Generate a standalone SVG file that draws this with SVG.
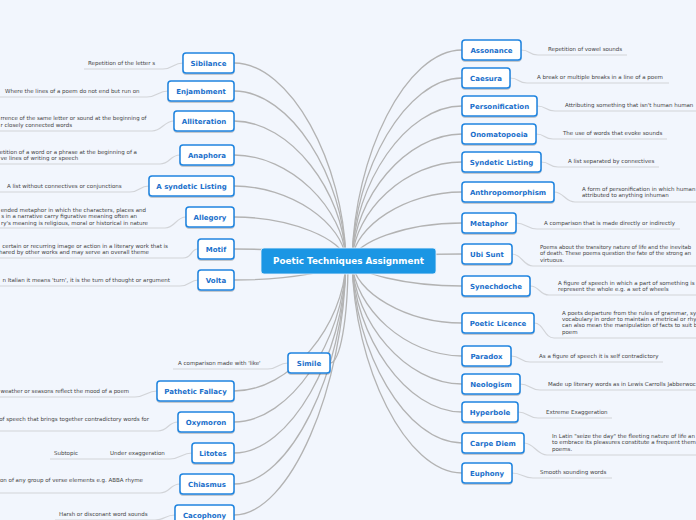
<svg xmlns="http://www.w3.org/2000/svg" width="696" height="520" viewBox="0 0 696 520">
<style>
.bg{fill:#f2f6fd}
.conn{fill:none;stroke:#b3b3b3;stroke-width:1.3}
.ul{fill:none;stroke:#d2d4d8;stroke-width:1.2}
.box{fill:#ffffff;stroke:#1f84e0;stroke-width:1.5;filter:url(#sh)}
.t{font-family:"DejaVu Sans",Verdana,sans-serif;font-size:7px;font-weight:bold;fill:#1a6fcb;text-anchor:middle}
.l{font-family:"DejaVu Sans",Verdana,sans-serif;font-size:5.5px;fill:#444444}
.e{text-anchor:end}
.root{fill:#1b96e4;stroke:#e8f3fd;stroke-width:0.8}
.rt{font-family:"DejaVu Sans",Verdana,sans-serif;font-size:8.8px;font-weight:bold;fill:#ffffff;text-anchor:middle}
</style>
<defs>
<filter id="sh" x="-20%" y="-30%" width="140%" height="170%">
<feDropShadow dx="0" dy="1" stdDeviation="0.7" flood-color="#000" flood-opacity="0.25"/>
</filter>
</defs>
<rect class="bg" x="0" y="0" width="696" height="520"/>
<g id="connectors">
<path class="conn" d="M234,63 C290,63 344,162 346,261"/>
<path class="conn" d="M234,91 C290,91 344,176 346,261"/>
<path class="conn" d="M234,121 C290,121 344,191 346,261"/>
<path class="conn" d="M234,155 C290,155 344,208 346,261"/>
<path class="conn" d="M234,186 C290,186 344,223 346,261"/>
<path class="conn" d="M234,217 C290,217 344,239 346,261"/>
<path class="conn" d="M234,249 C290,249 344,255 346,261"/>
<path class="conn" d="M234,280 C290,280 344,270 346,261"/>
<path class="conn" d="M234,391 C290,391 344,326 346,261"/>
<path class="conn" d="M234,422 C290,422 344,341 346,261"/>
<path class="conn" d="M234,453 C290,453 344,357 346,261"/>
<path class="conn" d="M234,484 C290,484 344,372 346,261"/>
<path class="conn" d="M234,515 C290,515 344,388 346,261"/>
<path class="conn" d="M330,363 C340,363 348,320 348,261"/>
<path class="conn" d="M462,50 C406,50 354,155 352,261"/>
<path class="conn" d="M462,78 C406,78 354,169 352,261"/>
<path class="conn" d="M462,106 C406,106 354,183 352,261"/>
<path class="conn" d="M462,134 C406,134 354,197 352,261"/>
<path class="conn" d="M462,162 C406,162 354,211 352,261"/>
<path class="conn" d="M462,192 C406,192 354,226 352,261"/>
<path class="conn" d="M462,223 C406,223 354,242 352,261"/>
<path class="conn" d="M462,254 C406,254 354,257 352,261"/>
<path class="conn" d="M462,286 C406,286 354,273 352,261"/>
<path class="conn" d="M462,323 C406,323 354,292 352,261"/>
<path class="conn" d="M462,356 C406,356 354,308 352,261"/>
<path class="conn" d="M462,384 C406,384 354,322 352,261"/>
<path class="conn" d="M462,412 C406,412 354,336 352,261"/>
<path class="conn" d="M462,443 C406,443 354,352 352,261"/>
<path class="conn" d="M462,473 C406,473 354,367 352,261"/>
<path class="ul" d="M183,63 C173,63 173,69 163,69 L84,69"/>
<path class="ul" d="M168,91 C158,91 157,97 147,97 L0,97"/>
<path class="ul" d="M174,121 C164,121 162,131 152,131 L0,131"/>
<path class="ul" d="M180,155 C170,155 170,164 160,164 L0,164"/>
<path class="ul" d="M149,186 C139,186 140,192 130,192 L0,192"/>
<path class="ul" d="M186,217 C176,217 175,228 165,228 L0,228"/>
<path class="ul" d="M198,249 C190,249 193,258 183,258 L0,258"/>
<path class="ul" d="M198,280 C190,280 190,286 180,286 L0,286"/>
<path class="ul" d="M288,363 C278,363 278,369 268,369 L173,369"/>
<path class="ul" d="M157,391 C147,391 145,397 135,397 L0,397"/>
<path class="ul" d="M178,422 C168,422 168,431 158,431 L0,431"/>
<path class="ul" d="M192,453 C182,453 180,459 170,459 L50,459"/>
<path class="ul" d="M180,484 C170,484 170,493 160,493 L0,493"/>
<path class="ul" d="M175,515 C165,515 165,520 155,520 L55,520"/>
<path class="ul" d="M521,50 C531,50 528,55 538,55 L627,55"/>
<path class="ul" d="M510,78 C520,78 517,83 527,83 L669,83"/>
<path class="ul" d="M537,106 C547,106 545,111 555,111 L696,111"/>
<path class="ul" d="M536,134 C546,134 543,139 553,139 L667,139"/>
<path class="ul" d="M541,162 C551,162 548,167 558,167 L659,167"/>
<path class="ul" d="M554,192 C564,192 565,202 575,202 L696,202"/>
<path class="ul" d="M516,223 C526,223 527,229 537,229 L680,229"/>
<path class="ul" d="M512,254 C522,254 523,266 533,266 L696,266"/>
<path class="ul" d="M530,286 C540,286 539,295 549,295 L696,295"/>
<path class="ul" d="M534,323 C544,323 544,338 554,338 L696,338"/>
<path class="ul" d="M511,356 C521,356 520,362 530,362 L663,362"/>
<path class="ul" d="M520,384 C530,384 530,390 540,390 L696,390"/>
<path class="ul" d="M518,412 C528,412 528,418 538,418 L612,418"/>
<path class="ul" d="M524,443 C534,443 537,455 547,455 L696,455"/>
<path class="ul" d="M512,473 C522,473 523,478 533,478 L612,478"/>
</g>
<g id="root">
<rect class="root" x="261" y="248" width="175" height="26" rx="3"/>
<text class="rt" x="348.5" y="264.2">Poetic Techniques Assignment</text>
</g>
<g id="sibilance"><rect class="box" x="183" y="53" width="51" height="20" rx="3"/><text class="t" x="208.5" y="65.5">Sibilance</text><text class="l" x="88" y="65">Repetition of the letter s</text></g>
<g id="enjambment"><rect class="box" x="168" y="81" width="66" height="20" rx="3"/><text class="t" x="201" y="93.5">Enjambment</text><text class="l" x="5" y="93">Where the lines of a poem do not end but run on</text></g>
<g id="alliteration"><rect class="box" x="174" y="111" width="60" height="20" rx="3"/><text class="t" x="204" y="123.5">Alliteration</text><text class="l" x="0.5" y="120" textLength="146" lengthAdjust="spacingAndGlyphs">rrence of the same letter or sound at the beginning of</text><text class="l" x="0.5" y="127">r closely connected words</text></g>
<g id="anaphora"><rect class="box" x="180" y="145" width="54" height="20" rx="3"/><text class="t" x="207" y="157.5">Anaphora</text><text class="l e" x="137" y="153.6">etition of a word or a phrase at the beginning of a</text><text class="l" x="0.5" y="160">ve lines of writing or speech</text></g>
<g id="asyndetic-listing"><rect class="box" x="149" y="176" width="85" height="20" rx="3"/><text class="t" x="191.5" y="188.5">A syndetic Listing</text><text class="l" x="7" y="188">A list without connectives or conjunctions</text></g>
<g id="allegory"><rect class="box" x="186" y="207" width="48" height="20" rx="3"/><text class="t" x="210" y="219.5">Allegory</text><text class="l e" x="146" y="212">ended metaphor in which the characters, places and</text><text class="l e" x="137" y="218.3">s in a narrative carry figurative meaning often an</text><text class="l e" x="148" y="225">ry's meaning is religious, moral or historical in nature</text></g>
<g id="motif"><rect class="box" x="198" y="239" width="36" height="20" rx="3"/><text class="t" x="216" y="251.5">Motif</text><text class="l e" x="168" y="248">certain or recurring image or action in a literary work that is</text><text class="l e" x="149" y="254.3">hared by other works and may serve an overall theme</text></g>
<g id="volta"><rect class="box" x="198" y="270" width="36" height="20" rx="3"/><text class="t" x="216" y="282.5">Volta</text><text class="l e" x="170" y="282">n Italian it means 'turn', it is the turn of thought or argument</text></g>
<g id="simile"><rect class="box" x="288" y="353" width="42" height="20" rx="3"/><text class="t" x="309" y="365.5">Simile</text><text class="l" x="178" y="365">A comparison made with 'like'</text></g>
<g id="pathetic-fallacy"><rect class="box" x="157" y="381" width="77" height="20" rx="3"/><text class="t" x="195.5" y="393.5">Pathetic Fallacy</text><text class="l" x="0.5" y="393" textLength="128.5" lengthAdjust="spacingAndGlyphs">weather or seasons reflect the mood of a poem</text></g>
<g id="oxymoron"><rect class="box" x="178" y="412" width="56" height="20" rx="3"/><text class="t" x="206" y="424.5">Oxymoron</text><text class="l e" x="149" y="421">of speech that brings together contradictory words for</text></g>
<g id="litotes"><rect class="box" x="192" y="443" width="42" height="20" rx="3"/><text class="t" x="213" y="455.5">Litotes</text><text class="l" x="110" y="455">Under exaggeration</text><text class="l" x="54" y="455">Subtopic</text></g>
<g id="chiasmus"><rect class="box" x="180" y="474" width="54" height="20" rx="3"/><text class="t" x="207" y="486.5">Chiasmus</text><text class="l e" x="143" y="482">on of any group of verse elements e.g. ABBA rhyme</text></g>
<g id="cacophony"><rect class="box" x="175" y="505" width="59" height="20" rx="3"/><text class="t" x="204.5" y="517.5">Cacophony</text><text class="l" x="59" y="516">Harsh or disconant word sounds</text></g>
<g id="assonance"><rect class="box" x="462" y="40" width="59" height="20" rx="3"/><text class="t" x="491.5" y="52.5">Assonance</text><text class="l" x="548" y="51">Repetition of vowel sounds</text></g>
<g id="caesura"><rect class="box" x="462" y="68" width="48" height="20" rx="3"/><text class="t" x="486" y="80.5">Caesura</text><text class="l" x="537" y="79">A break or multiple breaks in a line of a poem</text></g>
<g id="personification"><rect class="box" x="462" y="96" width="75" height="20" rx="3"/><text class="t" x="499.5" y="108.5">Personification</text><text class="l" x="565" y="107">Attributing something that isn't human human</text></g>
<g id="onomatopoeia"><rect class="box" x="462" y="124" width="74" height="20" rx="3"/><text class="t" x="499" y="136.5">Onomatopoeia</text><text class="l" x="563" y="135">The use of words that evoke sounds</text></g>
<g id="syndetic-listing"><rect class="box" x="462" y="152" width="79" height="20" rx="3"/><text class="t" x="501.5" y="164.5">Syndetic Listing</text><text class="l" x="568" y="163">A list separated by connectives</text></g>
<g id="anthropomorphism"><rect class="box" x="462" y="182" width="92" height="20" rx="3"/><text class="t" x="508" y="194.5">Anthropomorphism</text><text class="l" x="582" y="191">A form of personification in which human</text><text class="l" x="582" y="197.3">attributed to anything inhuman</text></g>
<g id="metaphor"><rect class="box" x="462" y="213" width="54" height="20" rx="3"/><text class="t" x="489" y="225.5">Metaphor</text><text class="l" x="544" y="225">A comparison that is made directly or indirectly</text></g>
<g id="ubi-sunt"><rect class="box" x="462" y="244" width="50" height="20" rx="3"/><text class="t" x="487" y="256.5">Ubi Sunt</text><text class="l" x="540" y="249" textLength="151" lengthAdjust="spacingAndGlyphs">Poems about the transitory nature of life and the inevitab</text><text class="l" x="540" y="255.3" textLength="151" lengthAdjust="spacingAndGlyphs">of death. These poems question the fate of the strong an</text><text class="l" x="540" y="261.7">virtuous.</text></g>
<g id="synechdoche"><rect class="box" x="462" y="276" width="68" height="20" rx="3"/><text class="t" x="496" y="288.5">Synechdoche</text><text class="l" x="558" y="285.3">A figure of speech in which a part of something is</text><text class="l" x="558" y="291.3">represent the whole e.g. a set of wheels</text></g>
<g id="poetic-licence"><rect class="box" x="462" y="313" width="72" height="20" rx="3"/><text class="t" x="498" y="325.5">Poetic Licence</text><text class="l" x="562" y="314.6">A poets departure from the rules of grammar, sy</text><text class="l" x="562" y="321">vocabulary in order to maintain a metrical or rhy</text><text class="l" x="562" y="327.3">can also mean the manipulation of facts to suit b</text><text class="l" x="562" y="333.6">poem</text></g>
<g id="paradox"><rect class="box" x="462" y="346" width="49" height="20" rx="3"/><text class="t" x="486.5" y="358.5">Paradox</text><text class="l" x="539" y="358">As a figure of speech it is self contradictory</text></g>
<g id="neologism"><rect class="box" x="462" y="374" width="58" height="20" rx="3"/><text class="t" x="491" y="386.5">Neologism</text><text class="l" x="548" y="386">Made up literary words as in Lewis Carrolls Jabberwoc</text></g>
<g id="hyperbole"><rect class="box" x="462" y="402" width="56" height="20" rx="3"/><text class="t" x="490" y="414.5">Hyperbole</text><text class="l" x="546" y="414">Extreme Exaggeration</text></g>
<g id="carpe-diem"><rect class="box" x="462" y="433" width="62" height="20" rx="3"/><text class="t" x="493" y="445.5">Carpe Diem</text><text class="l" x="552" y="438">In Latin "seize the day" the fleeting nature of life an</text><text class="l" x="552" y="444.3">to embrace its pleasures constitute a frequent them</text><text class="l" x="552" y="451">poems.</text></g>
<g id="euphony"><rect class="box" x="462" y="463" width="50" height="20" rx="3"/><text class="t" x="487" y="475.5">Euphony</text><text class="l" x="540" y="474">Smooth sounding words</text></g>
</svg>
